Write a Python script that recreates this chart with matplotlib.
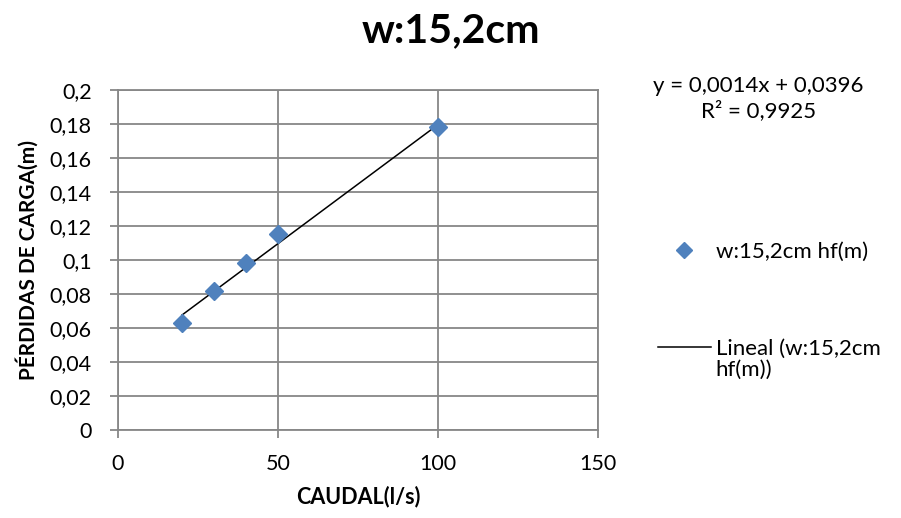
import numpy as np
import matplotlib
matplotlib.use("Agg")
import matplotlib.pyplot as plt
from matplotlib.lines import Line2D

plt.rcParams["font.family"] = ["Lato", "DejaVu Sans"]

# datos
caudal = [20, 30, 40, 50, 100]
hf = [0.063, 0.082, 0.098, 0.115, 0.178]
pendiente = 0.0014
ordenada = 0.0396
r2 = 0.9925
x_ticks = [0, 50, 100, 150]
y_ticks = [0, 0.02, 0.04, 0.06, 0.08, 0.1, 0.12, 0.14, 0.16, 0.18, 0.2]

azul = "#4F81BD"
gris = "#878787"


def fmt_coma(v):
    """Formato con coma decimal."""
    s = "{:g}".format(round(v, 4))
    return s.replace(".", ",")


fig = plt.figure(figsize=[9.01, 5.18], dpi=100)
ax = fig.add_axes([0.131, 0.170, 0.5327, 0.6564])

# linea de tendencia
x_lin = np.array([min(caudal), max(caudal)])
ax.plot(x_lin, pendiente * x_lin + ordenada, color="black", lw=1.1, zorder=3)
ax.plot(caudal, hf, "D", color=azul, markersize=9.5, zorder=4)

ax.set_xlim(0, 150)
ax.set_ylim(0, 0.2)
ax.set_xticks(x_ticks)
ax.set_yticks(y_ticks)
ax.set_xticklabels([fmt_coma(v) for v in x_ticks])
ax.set_yticklabels([fmt_coma(v) for v in y_ticks])
ax.grid(True, color=gris, lw=1.3)
ax.set_axisbelow(True)
for sp in ax.spines.values():
    sp.set_color(gris)
    sp.set_linewidth(1.3)
ax.tick_params(colors=gris, labelcolor="black", labelsize=15.5, length=6, width=1.3)
ax.tick_params(axis="x", pad=11)
ax.tick_params(axis="y", pad=13)

ax.set_xlabel("CAUDAL(l/s)", fontsize=15.5, fontweight="bold", labelpad=9)
ax.set_ylabel("PÉRDIDAS DE CARGA(m)", fontsize=15, fontweight="bold", labelpad=8)
fig.text(0.5, 0.94, "w:15,2cm", ha="center", va="center", fontsize=29.5, fontweight="bold")

# ecuacion de la tendencia
fig.text(0.842, 0.834, "y = {}x + {}".format(fmt_coma(pendiente), fmt_coma(ordenada)),
         ha="center", va="center", fontsize=16)
fig.text(0.842, 0.786, "R² = {}".format(fmt_coma(r2)), ha="center", va="center", fontsize=16)

handles = [
    Line2D([], [], marker="D", color=azul, ls="none", markersize=8.5),
    Line2D([], [], color="black", lw=1.1),
]
leg = fig.legend(handles, ["w:15,2cm hf(m)", "Lineal (w:15,2cm"],
                 loc="center left", bbox_to_anchor=(0.730, 0.420), frameon=False,
                 fontsize=16, handlelength=2.4, handletextpad=0.2, labelspacing=3.45,
                 borderaxespad=0, borderpad=0)
# segunda linea de la etiqueta de la tendencia
fig.text(0.7945, 0.286, "hf(m))", ha="left", va="center", fontsize=16)

fig.savefig("out.png", dpi=100)
